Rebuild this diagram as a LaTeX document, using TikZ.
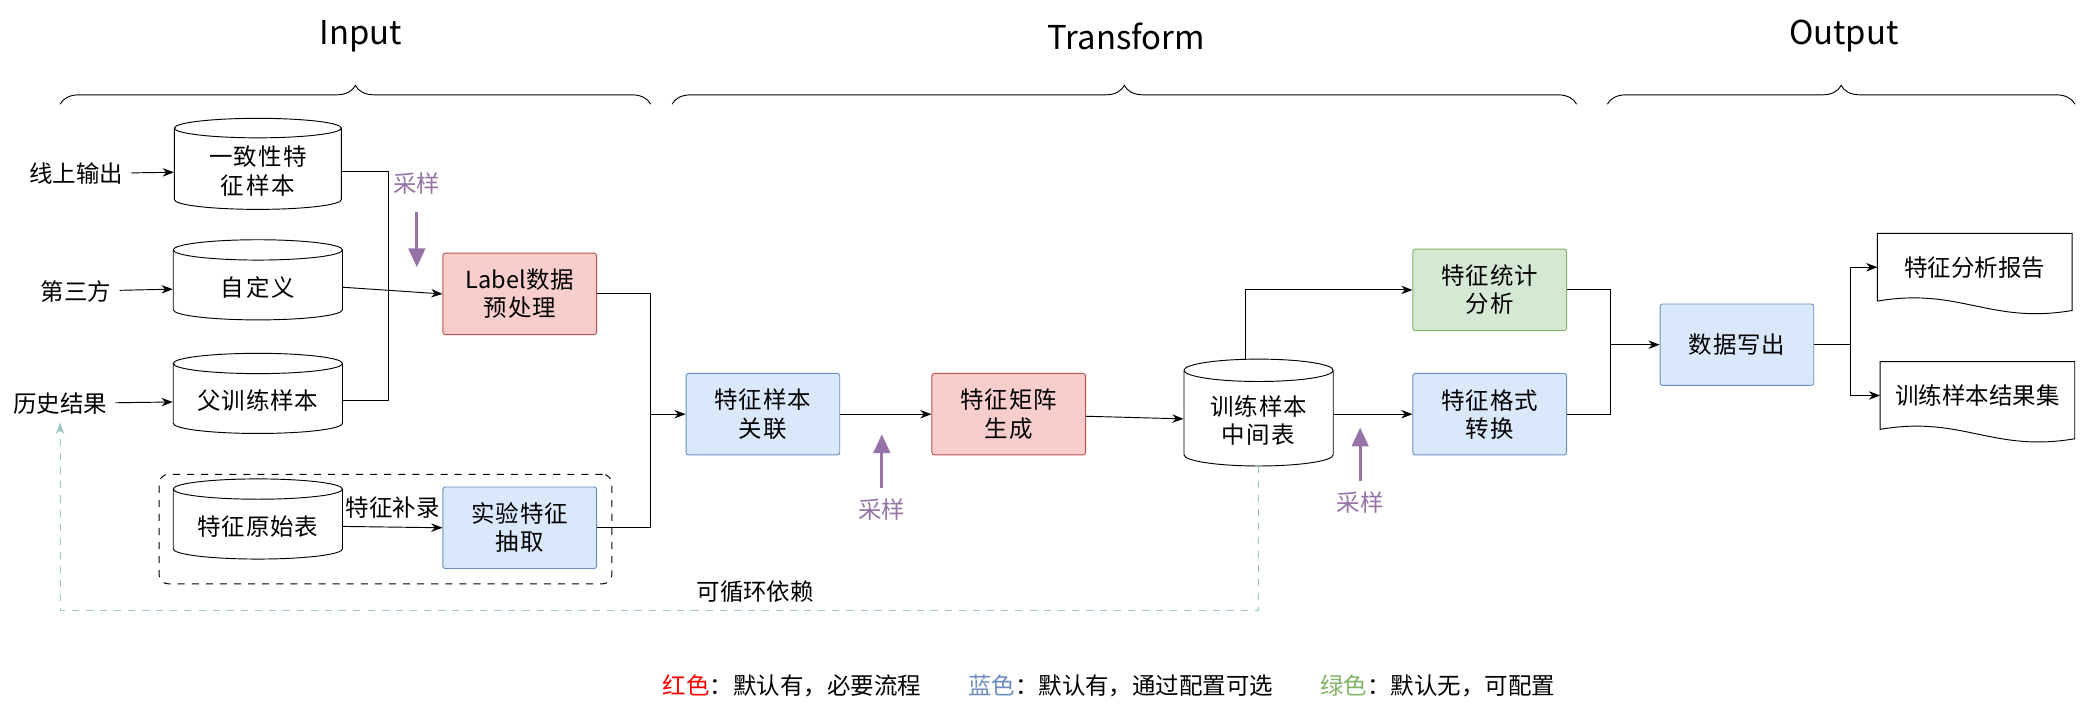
\documentclass[tikz,border=0pt]{standalone}
\usepackage{fontspec}
\setmainfont{Noto Sans CJK SC}
\XeTeXlinebreaklocale "zh"
\XeTeXlinebreakskip = 0pt plus 1pt
\usetikzlibrary{arrows.meta,shapes.geometric,positioning,decorations.pathreplacing}
\definecolor{redfill}{HTML}{F8CECC}\definecolor{redline}{HTML}{B85450}
\definecolor{bluefill}{HTML}{DAE8FC}\definecolor{blueline}{HTML}{6C8EBF}
\definecolor{greenfill}{HTML}{D5E8D4}\definecolor{greenline}{HTML}{82B366}
\definecolor{sample}{HTML}{9673A6}\definecolor{loopcol}{HTML}{9AC7BF}
\tikzset{
  basic/.style  = {font=\fontsize{10}{12}\selectfont, align=center},
  box/.style    = {basic, draw, rounded corners=1pt, minimum width=2.3cm, minimum height=1.22cm, text width=2cm},
  redbox/.style = {box, fill=redfill, draw=redline},
  bluebox/.style = {box, fill=bluefill, draw=blueline},
  greenbox/.style = {box, fill=greenfill, draw=greenline},
  db/.style     = {basic, draw, cylinder, shape border rotate=90, aspect=0.12,
                   minimum width=2.5cm, minimum height=1.2cm, text width=2.3cm},
  doc/.style    = {basic, minimum width=2.9cm, minimum height=1cm},
  title/.style  = {font=\fontsize{14}{16}\selectfont},
  sampling/.style = {-{Triangle[width=7pt,length=8pt]}, line width=1.3pt, sample},
  >=Stealth
}
\begin{document}
\begin{tikzpicture}[x=0.02cm, y=-0.02cm]
  \useasboundingbox (0,0) rectangle (1568,531);

  % phases
  \node[title] (tin) at (270,27) {Input};
  \node[title] (ttr) at (843,27) {Transform};
  \node[title] (tout) at (1380,27) {Output};
  \foreach \a/\b in {45/487, 503/1180, 1203/1553}
    \draw[decorate, decoration={brace, amplitude=8pt}] (\a,78) -- (\b,78);

  % input sources
  \node[db, text width=2.2cm] (consist) at (193,128) {一致性特征样本};
  \node[db] (custom) at (193,215) {自定义};
  \node[db] (parent) at (193,300) {父训练样本};
  \node[db] (raw) at (193,394) {特征原始表};
  \node[basic] (online) at (57,130) {线上输出};
  \node[basic] (third) at (57,218) {第三方};
  \node[basic] (hist) at (45,302) {历史结果};
  \foreach \s/\t in {online/consist, third/custom, hist/parent}
    \draw[->] (\s) -- (\t);

  \node[redbox] (label) at (389,220) {Label数据\\预处理};
  \node[bluebox] (exp) at (389,395) {实验特征\\抽取};
  \node[draw, dashed, rounded corners=4pt, minimum width=6.78cm, minimum height=1.64cm] (expgroup) at (288.5,396) {};
  \coordinate (join1) at (291,220);
  \draw (consist.east) -| (join1);
  \draw (parent.east) -| (join1);
  \draw[->] (custom.east) -- (label.west);
  \draw[->] (raw.east) -- node[basic, above] {特征补录} (exp.west);
  \node[basic, text=sample] (s1) at (312,137) {采样};
  \coordinate (s1end) at (312,200);
  \draw[sampling] (s1) ++(0,22) -- (s1end);

  % transform
  \node[bluebox] (assoc) at (571,310) {特征样本\\关联};
  \node[redbox] (matrix) at (755,310) {特征矩阵\\生成};
  \node[db, minimum width=2.2cm, minimum height=1.6cm, text width=2cm, aspect=0.15] (mid) at (942,315) {训练样本\\中间表};
  \node[greenbox] (stat) at (1115,217) {特征统计\\分析};
  \node[bluebox] (fmt) at (1115,310) {特征格式\\转换};
  \coordinate (join2) at (487,310);
  \draw (label.east) -| (join2);
  \draw (exp.east) -| (join2);
  \draw[->] (join2) -- (assoc.west);
  \draw[->] (assoc) -- (matrix);
  \draw[->] (matrix) -- (mid);
  \draw[->] (mid.north) ++(-10,0) |- (stat.west);
  \draw[->] (mid.east |- fmt.west) -- (fmt.west);
  \node[basic, text=sample] (s2) at (660,381) {采样};
  \node[basic, text=sample] (s3) at (1018,376) {采样};
  \draw[sampling] (s2) ++(0,-16) -- ++(0,-40);
  \draw[sampling] (s3) ++(0,-16) -- ++(0,-40);

  % output
  \node[bluebox] (write) at (1300,258) {数据写出};
  \coordinate (join3) at (1205,258);
  \draw (stat.east) -| (join3);
  \draw (fmt.east) -| (join3);
  \draw[->] (join3) -- (write.west);
  \node[doc] (report) at (1478,200) {特征分析报告};
  \node[doc] (result) at (1480,296) {训练样本结果集};
  \foreach \d in {report, result}
    \draw (\d.north west) -- (\d.north east) -- ([yshift=-4pt]\d.south east)
      .. controls ([xshift=-35pt,yshift=-10pt]\d.south east) and ([xshift=35pt,yshift=6pt]\d.south west) .. (\d.south west) -- cycle;
  \coordinate (split) at (1385,258);
  \draw (write.east) -- (split);
  \draw[->] (split) |- (report.west);
  \draw[->] (split) |- (result.west);

  % loop dependency
  \coordinate (loopa) at (942,457);
  \coordinate (loopb) at (45,457);
  \draw[->, dashed, loopcol] (mid.south) -- (loopa) -- node[basic, text=black, above, pos=0.42] {可循环依赖} (loopb) -- (hist.south);

  % legend
  \node[basic] (legend) at (830,513) {\textcolor{red}{红色}：默认有，必要流程\qquad
    \textcolor{blueline}{蓝色}：默认有，通过配置可选\qquad
    \textcolor{greenline}{绿色}：默认无，可配置};
\end{tikzpicture}
\end{document}
